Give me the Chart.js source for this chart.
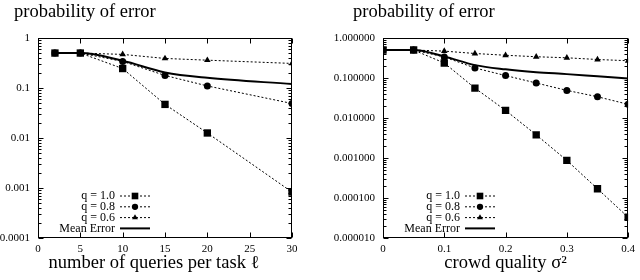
<!DOCTYPE html>
<html>
<head>
<meta charset="utf-8">
<script src="https://cdn.jsdelivr.net/npm/chart.js@4/dist/chart.umd.min.js"></script>
<style>
  html, body { margin: 0; padding: 0; background: #fff; }
  #wrap { display: flex; width: 640px; height: 280px; }
  .box { position: relative; width: 320px; height: 280px; }
</style>
</head>
<body>
<div id="wrap">
  <div class="box"><canvas id="left"></canvas></div>
  <div class="box"><canvas id="right"></canvas></div>
</div>
<script>
/* ── data: left panel (queries per task) ─────────────────────────────── */
const queries   = [2, 5, 10, 15, 20, 30];
const leftQ10   = [0.5, 0.5, 0.245, 0.047, 0.0126, 0.00083];
const leftQ08   = [0.5, 0.5, 0.34, 0.178, 0.11, 0.049];
const leftQ06   = [0.5, 0.5, 0.47, 0.39, 0.36, 0.31];
const leftMean  = [0.5, 0.5, 0.35, 0.205, 0.16, 0.12];
const leftXTicks  = [0, 5, 10, 15, 20, 25, 30];
const leftXLabels = ['0', '5', '10', '15', '20', '25', '30'];
const leftYTicks  = [0.0001, 0.001, 0.01, 0.1, 1];
const leftYLabels = ['0.0001', '0.001', '0.01', '0.1', '1'];

/* ── data: right panel (crowd quality) ──────────────────────────────── */
const sigma     = [0, 0.05, 0.1, 0.15, 0.2, 0.25, 0.3, 0.35, 0.4];
const rightQ10  = [0.5, 0.5, 0.237, 0.056, 0.0155, 0.0038, 0.00087, 0.00017, 0.000033];
const rightQ08  = [0.5, 0.5, 0.335, 0.178, 0.115, 0.075, 0.049, 0.034, 0.022];
const rightQ06  = [0.5, 0.5, 0.47, 0.41, 0.37, 0.34, 0.32, 0.29, 0.27];
const rightMean = [0.5, 0.5, 0.345, 0.21, 0.165, 0.14, 0.125, 0.11, 0.097];
const rightXTicks  = [0, 0.1, 0.2, 0.3, 0.4];
const rightXLabels = ['0', '0.1', '0.2', '0.3', '0.4'];
const rightYTicks  = [0.00001, 0.0001, 0.001, 0.01, 0.1, 1];
const rightYLabels = ['0.000010', '0.000100', '0.001000', '0.010000', '0.100000', '1.000000'];

const seriesLabels = ['q = 1.0', 'q = 0.8', 'q = 0.6', 'Mean Error'];

const SERIF = '"Liberation Serif", "DejaVu Serif", serif';

/* ── plugins ─────────────────────────────────────────────────────────── */
// frame + inward gnuplot-style ticks
const framePlugin = {
  id: 'frame',
  afterDatasetsDraw(chart) {
    const { ctx, chartArea: a, scales } = chart;
    const L = Math.round(a.left) + 0.5, R = Math.round(a.right) - 0.5;
    const T = Math.round(a.top) + 0.5, B = Math.round(a.bottom) - 0.5;
    ctx.save();
    ctx.strokeStyle = '#000';
    ctx.lineWidth = 1;
    ctx.setLineDash([]);
    ctx.strokeRect(L, T, R - L, B - T);
    ctx.beginPath();
    scales.x.ticks.forEach(t => {
      const px = Math.round(scales.x.getPixelForValue(t.value)) + 0.5;
      ctx.moveTo(px, B); ctx.lineTo(px, B - 5);
      ctx.moveTo(px, T); ctx.lineTo(px, T + 5);
    });
    const ys = scales.y;
    ys.ticks.forEach(t => {
      const py = Math.round(ys.getPixelForValue(t.value)) + 0.5;
      ctx.moveTo(L, py); ctx.lineTo(L + 5, py);
      ctx.moveTo(R, py); ctx.lineTo(R - 5, py);
      if (t.value < ys.max) {
        for (let k = 2; k <= 9; k++) {
          const my = Math.round(ys.getPixelForValue(t.value * k)) + 0.5;
          ctx.moveTo(L, my); ctx.lineTo(L + 3, my);
          ctx.moveTo(R, my); ctx.lineTo(R - 3, my);
        }
      }
    });
    ctx.stroke();
    ctx.restore();
  }
};

// heading, x-axis caption and the in-plot legend (text left, sample right)
const annotPlugin = {
  id: 'annot',
  afterDraw(chart, args, opts) {
    const { ctx, chartArea: a } = chart;
    ctx.save();
    ctx.fillStyle = '#000';
    ctx.font = '18.5px ' + SERIF;
    ctx.textBaseline = 'alphabetic';
    ctx.textAlign = 'left';
    ctx.fillText(opts.heading, opts.headingX, 17);

    ctx.textAlign = 'center';
    ctx.fillText(opts.caption, (a.left + a.right) / 2 + opts.captionShift, 268);

    ctx.font = '12px ' + SERIF;
    ctx.textAlign = 'right';
    ctx.textBaseline = 'middle';
    chart.data.datasets.forEach((ds, i) => {
      const y = a.bottom - 42 + i * 10.8;
      const x0 = a.left;
      ctx.fillStyle = '#000';
      ctx.fillText(ds.label, x0 + 77, y);
      ctx.beginPath();
      ctx.strokeStyle = '#000';
      ctx.lineWidth = ds.borderWidth;
      ctx.setLineDash(ds.borderDash || []);
      ctx.moveTo(x0 + 82, y);
      ctx.lineTo(x0 + 112, y);
      ctx.stroke();
      ctx.setLineDash([]);
      if (ds.pointRadius > 0) {
        ctx.fillStyle = '#000';
        Chart.helpers.drawPoint(ctx, {
          pointStyle: ds.pointStyle, radius: ds.pointRadius * 0.9,
          rotation: 0, borderWidth: 0
        }, x0 + 97, y);
      }
    });
    ctx.restore();
  }
};

/* ── builder ─────────────────────────────────────────────────────────── */
function series(xs, ys) {
  return xs.map((x, i) => ({ x, y: ys[i] }));
}

function dotted(label, data, style, r) {
  return {
    label, data,
    borderColor: '#000', backgroundColor: '#000',
    borderWidth: 1, borderDash: [2, 2],
    pointStyle: style, pointRadius: r, pointHoverRadius: r,
    pointBorderWidth: 0, tension: 0,
  };
}

function makeChart(id, cfg) {
  return new Chart(document.getElementById(id), {
    type: 'line',
    data: {
      datasets: [
        dotted(seriesLabels[0], series(cfg.xs, cfg.q10), 'rect', 5.2),
        dotted(seriesLabels[1], series(cfg.xs, cfg.q08), 'circle', 3.5),
        dotted(seriesLabels[2], series(cfg.xs, cfg.q06), 'triangle', 3.8),
        {
          label: seriesLabels[3], data: series(cfg.xs, cfg.mean),
          borderColor: '#000', borderWidth: 2, pointRadius: 0,
          cubicInterpolationMode: 'monotone',
        },
      ],
    },
    options: {
      responsive: true, maintainAspectRatio: false, animation: false,
      events: [],
      layout: { padding: { top: 38, right: cfg.padRight, left: 0, bottom: 0 } },
      plugins: {
        legend: { display: false },
        tooltip: { enabled: false },
        annot: {
          heading: 'probability of error', headingX: cfg.headingX,
          caption: cfg.xTitle, captionShift: cfg.captionShift,
        },
      },
      scales: {
        x: {
          type: 'linear', min: cfg.xTicks[0], max: cfg.xTicks[cfg.xTicks.length - 1],
          afterBuildTicks: s => { s.ticks = cfg.xTicks.map(v => ({ value: v })); },
          afterFit: s => { s.height = 42; },
          grid: { display: false, drawTicks: false },
          border: { display: false },
          ticks: {
            padding: 5, color: '#000', maxRotation: 0, autoSkip: false,
            font: { family: SERIF, size: 11 },
            callback: (v, i) => cfg.xLabels[i],
          },
        },
        y: {
          type: 'logarithmic', min: cfg.yTicks[0], max: cfg.yTicks[cfg.yTicks.length - 1],
          afterBuildTicks: s => { s.ticks = cfg.yTicks.map(v => ({ value: v })); },
          afterFit: s => { s.width = cfg.yWidth; },
          grid: { display: false, drawTicks: false },
          border: { display: false },
          ticks: {
            padding: 8, color: '#000', autoSkip: false,
            font: { family: SERIF, size: 11 },
            callback: (v, i) => cfg.yLabels[i],
          },
        },
      },
    },
    plugins: [framePlugin, annotPlugin],
  });
}

makeChart('left', {
  xs: queries, q10: leftQ10, q08: leftQ08, q06: leftQ06, mean: leftMean,
  xTicks: leftXTicks, xLabels: leftXLabels, yTicks: leftYTicks, yLabels: leftYLabels,
  xTitle: 'number of queries per task \u2113', captionShift: -11,
  yWidth: 38, padRight: 28, headingX: 14,
});

makeChart('right', {
  xs: sigma, q10: rightQ10, q08: rightQ08, q06: rightQ06, mean: rightMean,
  xTicks: rightXTicks, xLabels: rightXLabels, yTicks: rightYTicks, yLabels: rightYLabels,
  xTitle: 'crowd quality \u03C3\u00B2', captionShift: 0,
  yWidth: 63, padRight: 10, headingX: 33,
});
</script>
</body>
</html>
